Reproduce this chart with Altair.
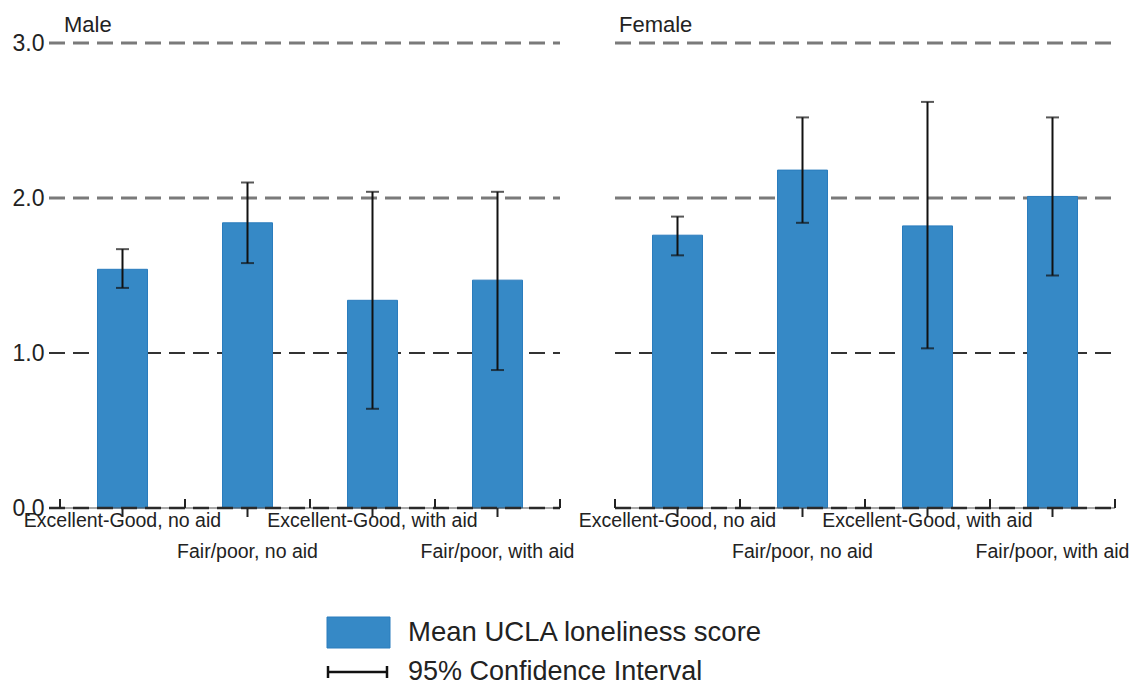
import altair as alt
import pandas as pd

# Categories along the x axis (same order in both panels)
groups = [
    "Excellent-Good, no aid",
    "Fair/poor, no aid",
    "Excellent-Good, with aid",
    "Fair/poor, with aid",
]
label_row = [0, 1, 0, 1]  # staggered tick labels: first / second line

# Mean UCLA loneliness score with 95% confidence limits
male_mean = [1.54, 1.84, 1.34, 1.47]
male_lo = [1.42, 1.58, 0.64, 0.89]
male_hi = [1.67, 2.10, 2.04, 2.04]

female_mean = [1.76, 2.18, 1.82, 2.01]
female_lo = [1.63, 1.84, 1.03, 1.50]
female_hi = [1.88, 2.52, 2.62, 2.52]

grid_light = [2.0, 3.0]
grid_dark = [1.0]
y_ticks = [0.0, 1.0, 2.0, 3.0]

legend_labels = ["Mean UCLA loneliness score", "95% Confidence Interval"]

FONT = "Liberation Sans"
BAR = "#3689c6"
W, H = 500, 465
STEP = W / len(groups)


def panel(title, mean, lo, hi, show_y):
    df = pd.DataFrame({"group": groups, "mean": mean, "lo": lo, "hi": hi, "row": label_row})
    last = pd.DataFrame({"group": [groups[-1]]})
    zero = pd.DataFrame({"v": [0.0]})
    head = pd.DataFrame({"title": [title]})

    xs = alt.Scale(domain=groups, paddingInner=0.6, paddingOuter=0.3)
    ys = alt.Scale(domain=[0, 3], nice=False)
    x = alt.X("group:N", scale=xs, axis=None, sort=groups)
    left = -11 if show_y else 0

    if show_y:
        yaxis = alt.Axis(values=y_ticks, format=".1f", title=None, grid=False, domain=False,
                         ticks=False, labelFontSize=23, labelFont=FONT, labelColor="#222",
                         labelPadding=16)
    else:
        yaxis = None

    base = alt.Chart(df)

    g_light = alt.Chart(pd.DataFrame({"v": grid_light})).mark_rule(
        color="#7a7a7a", strokeWidth=3, strokeDash=[16, 8]
    ).encode(y=alt.Y("v:Q", scale=ys, axis=yaxis), x=alt.value(left), x2=alt.value(W))
    g_dark = alt.Chart(pd.DataFrame({"v": grid_dark})).mark_rule(
        color="#333333", strokeWidth=2.2, strokeDash=[16, 8]
    ).encode(y=alt.Y("v:Q", scale=ys), x=alt.value(left), x2=alt.value(W))

    bars = base.mark_bar(color=BAR, stroke="#2a7cbd", strokeWidth=1).encode(
        x=x, y=alt.Y("mean:Q", scale=ys)
    )

    err = base.mark_rule(color="#111", strokeWidth=2).encode(
        x=x, y=alt.Y("lo:Q", scale=ys), y2="hi:Q"
    )
    cap_hi = base.mark_tick(color="#111", orient="horizontal", size=13, thickness=2).encode(
        x=x, y=alt.Y("hi:Q", scale=ys)
    )
    cap_lo = base.mark_tick(color="#111", orient="horizontal", size=13, thickness=2).encode(
        x=x, y=alt.Y("lo:Q", scale=ys)
    )

    axis_solid = alt.Chart(zero).mark_rule(color="#555", strokeWidth=1.2).encode(
        y=alt.Y("v:Q", scale=ys), x=alt.value(left), x2=alt.value(W)
    )
    axis_dash = alt.Chart(zero).mark_rule(color="#2a2a2a", strokeWidth=2.6, strokeDash=[16, 8]).encode(
        y=alt.Y("v:Q", scale=ys), x=alt.value(left), x2=alt.value(W)
    )
    tick_down = base.mark_rule(color="#222", strokeWidth=2).encode(
        x=x, y=alt.value(H), y2=alt.value(H + 9)
    )
    tick_up = base.mark_rule(color="#222", strokeWidth=2, xOffset=-STEP / 2).encode(
        x=x, y=alt.value(H - 9), y2=alt.value(H)
    )
    tick_up_end = alt.Chart(last).mark_rule(color="#222", strokeWidth=2, xOffset=STEP / 2).encode(
        x=x, y=alt.value(H - 9), y2=alt.value(H)
    )

    lab1 = base.transform_filter("datum.row == 0").mark_text(
        font=FONT, fontSize=19.5, color="#222", baseline="middle"
    ).encode(x=x, y=alt.value(H + 13), text="group:N")
    lab2 = base.transform_filter("datum.row == 1").mark_text(
        font=FONT, fontSize=19.5, color="#222", baseline="middle"
    ).encode(x=x, y=alt.value(H + 44), text="group:N")

    # panel heading, set just above the top gridline
    heading = alt.Chart(head).mark_text(
        font=FONT, fontSize=22, color="#222", align="left", baseline="alphabetic"
    ).encode(x=alt.value(4), y=alt.value(-11), text="title:N")

    layers = [g_light, g_dark, bars, err, cap_hi, cap_lo, axis_solid, axis_dash,
              tick_down, tick_up, tick_up_end, lab1, lab2, heading]

    if show_y:
        leg = pd.DataFrame({"label": legend_labels})
        swatch = alt.Chart(leg.iloc[[0]]).mark_rect(color=BAR, stroke="#2a7cbd").encode(
            x=alt.value(267), x2=alt.value(330), y=alt.value(574), y2=alt.value(605)
        )
        ci_line = alt.Chart(leg.iloc[[1]]).mark_rule(color="#111", strokeWidth=2.5).encode(
            x=alt.value(267), x2=alt.value(328), y=alt.value(629)
        )
        ci_cap_l = alt.Chart(leg.iloc[[1]]).mark_rule(color="#111", strokeWidth=2.5).encode(
            x=alt.value(268), y=alt.value(623), y2=alt.value(635)
        )
        ci_cap_r = alt.Chart(leg.iloc[[1]]).mark_rule(color="#111", strokeWidth=2.5).encode(
            x=alt.value(327), y=alt.value(623), y2=alt.value(635)
        )
        t1 = alt.Chart(leg.iloc[[0]]).mark_text(
            font=FONT, fontSize=27.5, color="#222", align="left", baseline="middle"
        ).encode(x=alt.value(348), y=alt.value(590), text="label:N")
        t2 = alt.Chart(leg.iloc[[1]]).mark_text(
            font=FONT, fontSize=27, color="#222", align="left", baseline="middle"
        ).encode(x=alt.value(348), y=alt.value(629), text="label:N")
        layers += [swatch, ci_line, ci_cap_l, ci_cap_r, t1, t2]

    return alt.layer(*layers).properties(width=W, height=H)


male = panel("Male", male_mean, male_lo, male_hi, True)
female = panel("Female", female_mean, female_lo, female_hi, False)

chart = alt.hconcat(male, female, spacing=55, bounds="flush").properties(
    padding={"left": 12, "top": 14, "right": 5, "bottom": 2},
    background="white",
).configure_view(strokeWidth=0)

chart.save("out.html", embed_options={"renderer": "svg", "actions": False})
